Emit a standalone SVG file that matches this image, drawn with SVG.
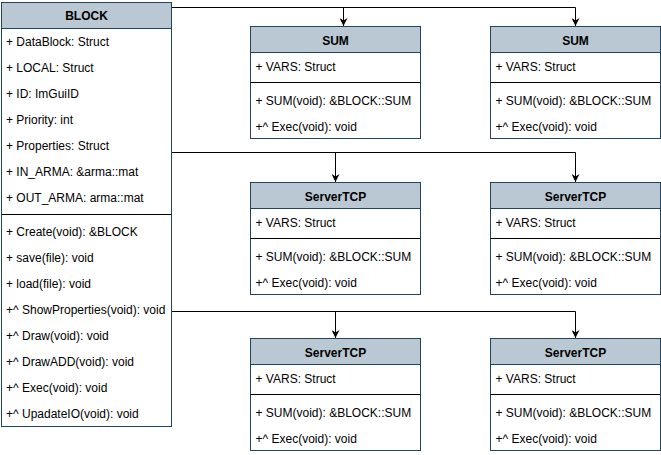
<svg xmlns="http://www.w3.org/2000/svg" width="661" height="455" viewBox="0 0 661 455">
  <style>
    .box { fill: #ffffff; stroke: #23445d; stroke-width: 1; }
    .head { fill: #bac8d3; stroke: #23445d; stroke-width: 1; }
    .sep { stroke: #000000; stroke-width: 1; }
    .t { font-family: "Liberation Sans", Arial, sans-serif; font-size: 12px; fill: #000000; }
    .h { font-family: "Liberation Sans", Arial, sans-serif; font-size: 12px; font-weight: bold; fill: #000000; text-anchor: middle; }
    .edge { fill: none; stroke: #000000; stroke-width: 1; }
  </style>
  <defs>
    <marker id="arrow" viewBox="0 0 10 10" refX="10" refY="5" markerWidth="8" markerHeight="8" markerUnits="userSpaceOnUse" orient="auto">
      <path d="M0,0 L10,5 L0,10 L3,5 Z" fill="#000000"/>
    </marker>
  </defs>

  <rect width="661" height="455" fill="#ffffff"/>

  <!-- connectors -->
  <g id="connectors">
    <path class="edge" d="M171,7.5 H343.5 V26" marker-end="url(#arrow)"/>
    <path class="edge" d="M171,7.5 H575.5 V26" marker-end="url(#arrow)"/>
    <path class="edge" d="M171,152.5 H335.5 V182" marker-end="url(#arrow)"/>
    <path class="edge" d="M171,152.5 H575.5 V182" marker-end="url(#arrow)"/>
    <path class="edge" d="M171,311.5 H335.5 V338" marker-end="url(#arrow)"/>
    <path class="edge" d="M171,311.5 H575.5 V338" marker-end="url(#arrow)"/>
  </g>

  <!-- BLOCK class -->
  <g id="block">
    <rect class="box" x="1.5" y="2.5" width="170" height="424"/>
    <rect class="head" x="1.5" y="2.5" width="170" height="26"/>
    <text class="h" x="86.5" y="20">BLOCK</text>
    <text class="t" x="6" y="46">+ DataBlock: Struct</text>
    <text class="t" x="6" y="72">+ LOCAL: Struct</text>
    <text class="t" x="6" y="98">+ ID: ImGuiID</text>
    <text class="t" x="6" y="124">+ Priority: int</text>
    <text class="t" x="6" y="150">+ Properties: Struct</text>
    <text class="t" x="6" y="176">+ IN_ARMA: &amp;arma::mat</text>
    <text class="t" x="6" y="202">+ OUT_ARMA: arma::mat</text>
    <line class="sep" x1="1.5" y1="214.5" x2="171.5" y2="214.5"/>
    <text class="t" x="6" y="236">+ Create(void): &amp;BLOCK</text>
    <text class="t" x="6" y="262">+ save(file): void</text>
    <text class="t" x="6" y="288">+ load(file): void</text>
    <text class="t" x="6" y="314">+^ ShowProperties(void): void</text>
    <text class="t" x="6" y="340">+^ Draw(void): void</text>
    <text class="t" x="6" y="366">+^ DrawADD(void): void</text>
    <text class="t" x="6" y="392">+^ Exec(void): void</text>
    <text class="t" x="6" y="418">+^ UpadateIO(void): void</text>
  </g>

  <!-- SUM (left) -->
  <g id="sum-1" transform="translate(250.5,26.5)">
    <rect class="box" x="0" y="0" width="170" height="112"/>
    <rect class="head" x="0" y="0" width="170" height="26"/>
    <text class="h" x="85" y="18">SUM</text>
    <text class="t" x="5" y="44">+ VARS: Struct</text>
    <line class="sep" x1="0" y1="56" x2="170" y2="56"/>
    <text class="t" x="5" y="78">+ SUM(void): &amp;BLOCK::SUM</text>
    <text class="t" x="5" y="104">+^ Exec(void): void</text>
  </g>

  <!-- SUM (right) -->
  <g id="sum-2" transform="translate(490.5,26.5)">
    <rect class="box" x="0" y="0" width="170" height="112"/>
    <rect class="head" x="0" y="0" width="170" height="26"/>
    <text class="h" x="85" y="18">SUM</text>
    <text class="t" x="5" y="44">+ VARS: Struct</text>
    <line class="sep" x1="0" y1="56" x2="170" y2="56"/>
    <text class="t" x="5" y="78">+ SUM(void): &amp;BLOCK::SUM</text>
    <text class="t" x="5" y="104">+^ Exec(void): void</text>
  </g>

  <!-- ServerTCP row 2 (left) -->
  <g id="servertcp-1" transform="translate(250.5,182.5)">
    <rect class="box" x="0" y="0" width="170" height="112"/>
    <rect class="head" x="0" y="0" width="170" height="26"/>
    <text class="h" x="85" y="18">ServerTCP</text>
    <text class="t" x="5" y="44">+ VARS: Struct</text>
    <line class="sep" x1="0" y1="56" x2="170" y2="56"/>
    <text class="t" x="5" y="78">+ SUM(void): &amp;BLOCK::SUM</text>
    <text class="t" x="5" y="104">+^ Exec(void): void</text>
  </g>

  <!-- ServerTCP row 2 (right) -->
  <g id="servertcp-2" transform="translate(490.5,182.5)">
    <rect class="box" x="0" y="0" width="170" height="112"/>
    <rect class="head" x="0" y="0" width="170" height="26"/>
    <text class="h" x="85" y="18">ServerTCP</text>
    <text class="t" x="5" y="44">+ VARS: Struct</text>
    <line class="sep" x1="0" y1="56" x2="170" y2="56"/>
    <text class="t" x="5" y="78">+ SUM(void): &amp;BLOCK::SUM</text>
    <text class="t" x="5" y="104">+^ Exec(void): void</text>
  </g>

  <!-- ServerTCP row 3 (left) -->
  <g id="servertcp-3" transform="translate(250.5,338.5)">
    <rect class="box" x="0" y="0" width="170" height="112"/>
    <rect class="head" x="0" y="0" width="170" height="26"/>
    <text class="h" x="85" y="18">ServerTCP</text>
    <text class="t" x="5" y="44">+ VARS: Struct</text>
    <line class="sep" x1="0" y1="56" x2="170" y2="56"/>
    <text class="t" x="5" y="78">+ SUM(void): &amp;BLOCK::SUM</text>
    <text class="t" x="5" y="104">+^ Exec(void): void</text>
  </g>

  <!-- ServerTCP row 3 (right) -->
  <g id="servertcp-4" transform="translate(490.5,338.5)">
    <rect class="box" x="0" y="0" width="170" height="112"/>
    <rect class="head" x="0" y="0" width="170" height="26"/>
    <text class="h" x="85" y="18">ServerTCP</text>
    <text class="t" x="5" y="44">+ VARS: Struct</text>
    <line class="sep" x1="0" y1="56" x2="170" y2="56"/>
    <text class="t" x="5" y="78">+ SUM(void): &amp;BLOCK::SUM</text>
    <text class="t" x="5" y="104">+^ Exec(void): void</text>
  </g>
</svg>
